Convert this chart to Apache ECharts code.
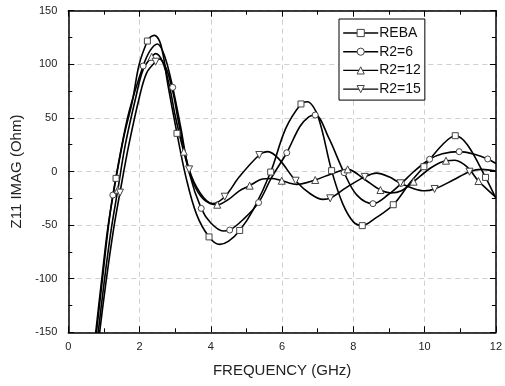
<!DOCTYPE html>
<html>
<head>
<meta charset="utf-8">
<script src="https://cdn.jsdelivr.net/npm/echarts@6/dist/echarts.min.js"></script>
<style>html,body{margin:0;padding:0;background:#fff}#c{width:505px;height:386px}</style>
</head>
<body>
<div id="c"></div>
<script>
// ---- data ----
const seriesNames = ['REBA', 'R2=6', 'R2=12', 'R2=15'];
const xTickLabels = ['0', '2', '4', '6', '8', '10', '12'];
const yTickLabels = ['-150', '-100', '-50', '0', '50', '100', '150'];

// curve shape points (GHz, Ohm)
const rebaCurve = [[0.74,-160],[0.77,-150],[0.94,-100],[1.12,-50],[1.55,31],[1.8,66],[1.99,100],[2.31,125.5],[2.42,127],[2.6,118],[2.8,80],[3.3,-5],[3.6,-40],[4.25,-68],[4.5,-65],[5.2,-35],[6.1,40],[6.7,65],[7.0,52],[7.7,-30],[8.0,-47],[8.6,-44],[9.6,-10],[10.5,25],[11.2,25],[12,-25]];
const rebaMarkers = [[1.34,-6.4],[2.22,121.7],[3.05,35.6],[3.95,-61],[4.81,-55],[5.68,-0.5],[6.53,63],[7.39,0.8],[8.25,-50.5],[9.12,-31],[9.98,4.5],[10.86,33.4],[11.71,-5.5]];

const r6Curve = [[0.76,-160],[0.79,-150],[0.96,-100],[1.13,-50],[1.45,15],[1.7,55],[2.3,113],[2.5,119],[2.7,108],[3.15,42],[3.4,-2],[4.0,-48],[4.35,-55.5],[4.9,-45],[5.7,-6],[6.5,42],[6.75,51],[7.3,32],[8.1,-22],[9.0,-21],[9.7,0],[10.5,16.5],[11.4,16],[12,7.5]];
const r6Markers = [[1.25,-22],[2.1,98.4],[2.93,78.5],[3.73,-34.4],[4.53,-54.6],[5.34,-29],[6.13,17.5],[6.93,52.7],[7.74,-1.1],[8.55,-30],[9.35,-11],[10.14,11.4],[10.97,18.5],[11.77,11.7]];

const r12Curve = [[0.81,-160],[0.84,-150],[1.0,-105],[1.2,-55],[1.6,25],[1.9,70],[2.1,95],[2.45,110],[2.65,102],[2.85,78],[3.0,52],[3.5,-10],[3.8,-26],[4.5,-26],[4.8,-18],[5.45,-7],[5.7,-6.5],[6.4,-12],[7.4,-2],[8.3,-7],[9.05,-20],[9.35,-18],[10.2,4],[10.85,10.5],[11.2,4],[11.8,-18],[12,-24]];
const r12Markers = [[1.39,-17],[2.34,107],[3.24,18.5],[4.18,-31],[5.09,-13.2],[5.99,-8.6],[6.93,-7.9],[7.84,2],[8.76,-17.3],[9.69,-9.5],[10.6,10.1],[11.51,-8.9]];

const r15Curve = [[0.85,-160],[0.88,-150],[1.05,-105],[1.26,-56],[1.7,25],[2.0,70],[2.2,92],[2.55,105],[2.75,96],[2.95,72],[3.1,45],[3.7,-20],[4.05,-30],[4.8,-5],[5.6,18.5],[5.9,12],[6.8,-21],[7.15,-26],[7.8,-15],[8.65,-1.5],[9.0,-5],[9.7,-16],[10.0,-18],[10.8,-8],[11.6,2],[12,0.5]];
const r15Markers = [[1.45,-19.7],[2.45,102.4],[3.39,2],[4.39,-23.5],[5.36,15.4],[6.38,-8.6],[7.35,-25],[8.32,-5],[9.32,-11],[10.28,-16.3],[11.26,-0.2]];

const curves = [rebaCurve, r6Curve, r12Curve, r15Curve];
const markers = [rebaMarkers, r6Markers, r12Markers, r15Markers];
const symbols = ['rect', 'circle', 'triangle', 'path://M0,0L2,0L1,1.732Z'];
const symbolSizes = [6, 6, 7, 7];

function buildData(curve, mk) {
  const pts = curve.map(p => ({ value: p, symbol: 'none' }))
    .concat(mk.map(p => ({ value: p })));
  pts.sort((a, b) => a.value[0] - b.value[0]);
  return pts;
}

const FONT = '"Liberation Sans", Arial, sans-serif';
const chart = echarts.init(document.getElementById('c'), null, { renderer: 'canvas' });

const axisCommon = {
  axisLine: { show: true, onZero: false, lineStyle: { color: '#000', width: 1.5 } },
  axisTick: { show: true, inside: true, length: 6, lineStyle: { color: '#000', width: 1 } },
  minorTick: { show: true, splitNumber: 2, length: 4, lineStyle: { color: '#000', width: 1 } },
};

const option = {
  animation: false,
  backgroundColor: '#fff',
  grid: { left: 68.3, right: 4, top: 10.7, bottom: 53.7, containLabel: false },
  legend: {
    show: true,
    data: seriesNames,
    orient: 'vertical',
    left: 339, top: 19,
    padding: [7, 4, 4, 3.5],
    itemWidth: 35, itemHeight: 9, itemGap: 4.7,
    borderColor: '#000', borderWidth: 1,
    backgroundColor: '#fff',
    itemStyle: { color: '#fff', borderColor: '#444', borderWidth: 1 },
    lineStyle: { color: '#000', width: 1.4 },
    textStyle: { fontFamily: FONT, fontSize: 14, color: '#111', lineHeight: 14, padding: [0, 0, 0, -4] },
    selectedMode: false
  },
  xAxis: [
    Object.assign({}, axisCommon, {
      type: 'value', min: 0, max: 12, interval: 2, position: 'bottom',
      name: 'FREQUENCY (GHz)', nameLocation: 'middle', nameGap: 31,
      nameTextStyle: { fontFamily: FONT, fontSize: 15, color: '#222' },
      axisLabel: { fontFamily: FONT, fontSize: 11, color: '#222', margin: 9,
        formatter: v => xTickLabels[Math.round(v / 2)] },
      splitLine: { show: true, lineStyle: { color: '#cfcfcf', type: [5, 4], width: 1 } }
    }),
    Object.assign({}, axisCommon, {
      type: 'value', min: 0, max: 12, interval: 2, position: 'top',
      axisLabel: { show: false }, splitLine: { show: false }
    })
  ],
  yAxis: [
    Object.assign({}, axisCommon, {
      type: 'value', min: -150, max: 150, interval: 50, position: 'left',
      name: 'Z11 IMAG (Ohm)', nameLocation: 'middle', nameGap: 37,
      nameTextStyle: { fontFamily: FONT, fontSize: 15, color: '#222' },
      axisLabel: { fontFamily: FONT, fontSize: 11, color: '#222', margin: 11,
        formatter: v => yTickLabels[Math.round((v + 150) / 50)] },
      splitLine: { show: true, lineStyle: { color: '#cfcfcf', type: [5, 4], width: 1 } }
    }),
    Object.assign({}, axisCommon, {
      type: 'value', min: -150, max: 150, interval: 50, position: 'right',
      axisLabel: { show: false }, splitLine: { show: false }
    })
  ],
  series: seriesNames.map((name, i) => ({
    name: name,
    type: 'line',
    xAxisIndex: 0, yAxisIndex: 0,
    data: buildData(curves[i], markers[i]),
    smooth: 0.35,
    showSymbol: true,
    showAllSymbol: true,
    symbol: symbols[i],
    symbolSize: symbolSizes[i],
    clip: true,
    lineStyle: { color: '#000', width: 1.6 },
    itemStyle: { color: '#fff', borderColor: '#444', borderWidth: 1 },
    emphasis: { disabled: true },
    z: 3
  }))
};
chart.setOption(option);
</script>
</body>
</html>
